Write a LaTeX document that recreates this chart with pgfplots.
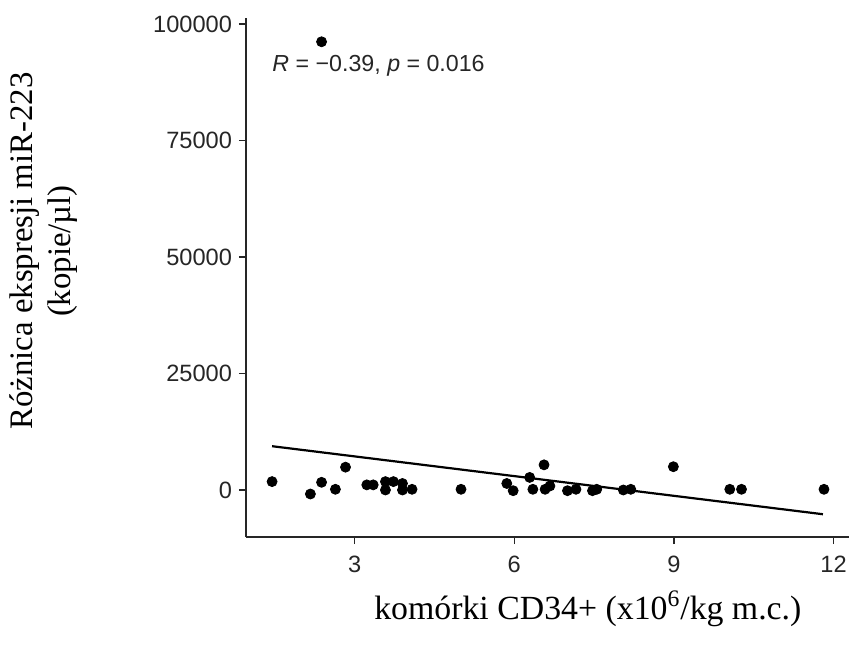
\documentclass[border=0pt]{standalone}
\usepackage{pgfplots}
\pgfplotsset{compat=1.18}
\usepackage{fontspec}
\setmainfont{Liberation Serif}
\newfontfamily\arial{Liberation Sans}

\begin{document}
\begin{tikzpicture}
\begin{axis}[
  at={(0,0)}, anchor=south west,
  scale only axis, width=301.5pt, height=259.5pt,
  xmin=0.96, xmax=12.29, ymin=-10090, ymax=101300,
  axis x line*=bottom, axis y line*=left,
  axis line style={line width=0.6pt, black!85},
  xtick={3,6,9,12}, ytick={0,25000,50000,75000,100000},
  scaled y ticks=false,
  tick align=outside, major tick length=3.5pt,
  tick style={line width=0.6pt, black!85},
  tick label style={font=\arial\fontsize{11.8}{13}\selectfont, text=black!85},
  xticklabel style={yshift=-2.5pt},
  /pgf/number format/assume math mode=true,
  /pgf/number format/fixed,
  /pgf/number format/1000 sep={},
  xlabel={komórki CD34+ (x10\textsuperscript{6}/kg m.c.)},
  xlabel style={at={(axis description cs:0.567,0)}, anchor=center, yshift=-36pt,
                font=\fontsize{16.9}{19}\selectfont},
  ylabel={Różnica ekspresji miR-223\\(kopie/µl)},
  ylabel style={at={(axis description cs:-0.335,0.551)}, anchor=center,
                align=center, font=\fontsize{16.4}{19}\selectfont},
  clip=false,
]
% regression line
\addplot[black, line width=1.1pt] coordinates {(1.45,9400) (11.80,-5200)};
\addplot[only marks, mark=*, mark size=2.5pt, black] coordinates {
  (1.45,1800) (2.17,-860) (2.38,1650) (2.38,96200) (2.64,150) (2.83,4900)
  (3.23,1100) (3.35,1100) (3.58,1800) (3.58,0) (3.73,1800) (3.90,1400)
  (3.90,0) (4.08,150) (5.00,150) (5.86,1400) (5.98,-150) (6.29,2700)
  (6.35,150) (6.56,5400) (6.58,150) (6.67,860) (7.00,-150) (7.16,150)
  (7.47,-150) (7.55,150) (8.05,0) (8.19,150) (8.99,5000) (10.05,150)
  (10.27,150) (11.82,150)
};
\node[anchor=west, font=\arial\fontsize{11.6}{13}\selectfont, text=black!85, inner sep=0pt]
  at (axis cs:1.45,91000) {\itshape R\upshape{} = −0.39, \itshape p\upshape{} = 0.016};
\end{axis}
\pgfresetboundingbox
\useasboundingbox (-123pt,-58.5pt) rectangle (301.5pt,268.5pt);
\end{tikzpicture}
\end{document}
